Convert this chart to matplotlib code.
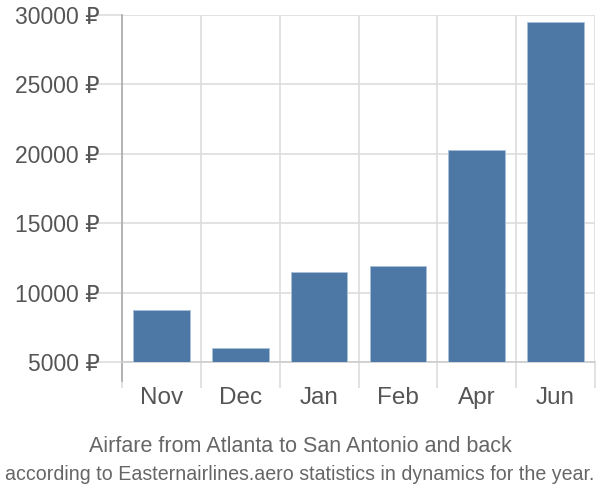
import matplotlib
matplotlib.use("Agg")
import matplotlib.pyplot as plt

plt.rcParams['font.family'] = ['Liberation Sans', 'DejaVu Sans']

months = ["Nov", "Dec", "Jan", "Feb", "Apr", "Jun"]
prices = [8750, 6030, 11470, 11910, 20270, 29470]
yticks = [5000, 10000, 15000, 20000, 25000, 30000]

fig = plt.figure(figsize=(6, 5), dpi=100)
ax = fig.add_axes([122 / 600, 1 - 362 / 500, 473 / 600, 347 / 500])

x = list(range(len(months)))
ax.bar(x, [p - 5000 for p in prices], bottom=5000, width=0.72,
       color="#4d78a6", edgecolor="#a9c0da", linewidth=0.6, zorder=3)

ax.set_xlim(-0.5, len(months) - 0.5)
ax.set_ylim(5000, 30000)
ax.set_yticks(yticks)
ax.set_yticklabels([f"{v} ₽" for v in yticks])

# category separators as long ticks/grid
ax.set_xticks([i + 0.5 for i in range(-1, len(months))], minor=False)
ax.set_xticklabels([])
ax.set_xticks(x, minor=True)
ax.set_xticklabels(months, minor=True)
ax.tick_params(axis="x", which="major", length=19, color="#dddddd", width=1.2)
ax.tick_params(axis="x", which="minor", length=0, pad=18, labelsize=17.5, labelcolor="#555555")
ax.tick_params(axis="y", length=19, color="#dddddd", width=1.2, pad=-3,
               labelsize=16.5, labelcolor="#555555")

ax.grid(True, which="major", color="#dddddd", linewidth=1.2, zorder=0)
ax.set_axisbelow(True)

for s in ["top", "right"]:
    ax.spines[s].set_visible(False)
ax.spines["bottom"].set_color("#cccccc")
ax.spines["bottom"].set_linewidth(1.2)
ax.spines["left"].set_color("#aaaaaa")
ax.spines["left"].set_linewidth(1.2)
ax.spines["left"].set_bounds(5000 - 19 / 347 * 25000, 30000)
ax.spines["left"].set_clip_on(False)

fig.text(0.5, 1 - 447 / 500, "Airfare from Atlanta to San Antonio and back",
         ha="center", va="center", fontsize=15.5, color="#666666")
fig.text(0.5, 1 - 475 / 500,
         "according to Easternairlines.aero statistics in dynamics for the year.",
         ha="center", va="center", fontsize=14.1, color="#666666")

fig.savefig("out.png", dpi=100)
